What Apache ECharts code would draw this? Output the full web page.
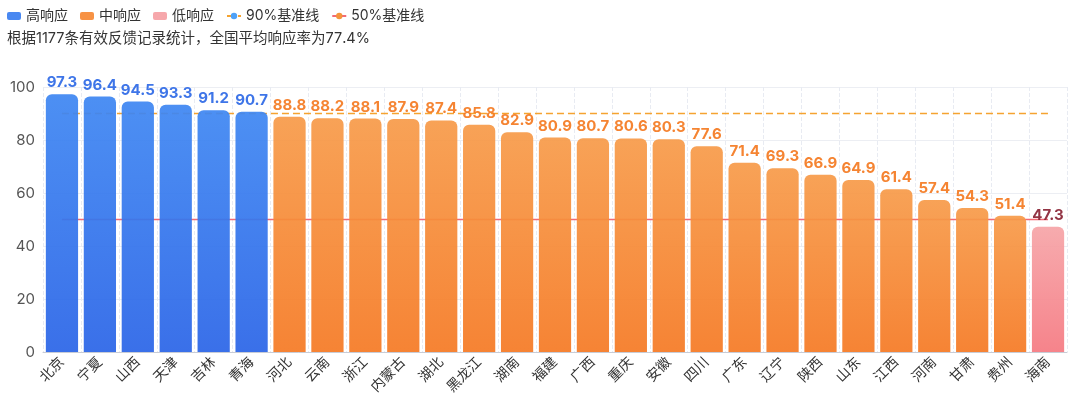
<!DOCTYPE html>
<html>
<head>
<meta charset="utf-8">
<script src="https://cdn.jsdelivr.net/npm/echarts@6/dist/echarts.min.js"></script>
<style>
html,body{margin:0;padding:0;background:#fff;}
#c{width:1080px;height:402px;}
</style>
</head>
<body>
<div id="c"></div>
<script>
const categories = ['北京','宁夏','山西','天津','吉林','青海','河北','云南','浙江','内蒙古','湖北','黑龙江','湖南','福建','广西','重庆','安徽','四川','广东','辽宁','陕西','山东','江西','河南','甘肃','贵州','海南'];
const rates = [97.3,96.4,94.5,93.3,91.2,90.7,88.8,88.2,88.1,87.9,87.4,85.8,82.9,80.9,80.7,80.6,80.3,77.6,71.4,69.3,66.9,64.9,61.4,57.4,54.3,51.4,47.3];
const groupOf = ['high','high','high','high','high','high','mid','mid','mid','mid','mid','mid','mid','mid','mid','mid','mid','mid','mid','mid','mid','mid','mid','mid','mid','mid','low'];
const baseline90 = 90;
const baseline50 = 50;
const yTicks = [0,20,40,60,80,100];
const subtitle = '根据1177条有效反馈记录统计，全国平均响应率为77.4%';

const FONT = 'Inter, "Noto Sans CJK SC", sans-serif';
function grad(top, bottom){
  return {type:'linear',x:0,y:0,x2:0,y2:1,colorStops:[{offset:0,color:top},{offset:1,color:bottom}]};
}
function pick(g){ return rates.map((v,i)=> groupOf[i]===g ? v : '-'); }

function barSeries(name, g, top, bottom, labelColor){
  return {
    name, type:'bar', stack:'r', data: pick(g), barCategoryGap:'15%', z:3,
    itemStyle:{color:grad(top,bottom), borderRadius:[6,6,0,0], opacity:0.93},
    label:{show:true, position:'top', distance:4, color:labelColor, fontWeight:'bold', fontSize:15, fontFamily:FONT,
      formatter:p=>p.value.toFixed(1)}
  };
}

const chart = echarts.init(document.getElementById('c'));
chart.setOption({
  animation:false,
  textStyle:{fontFamily:FONT},
  title:{text:subtitle, left:2, top:26, textStyle:{fontSize:14.5, fontWeight:'normal', color:'#333', fontFamily:FONT}},
  legend:{left:2, top:4, itemWidth:14, itemHeight:8, itemGap:12, textStyle:{fontSize:14, color:'#333', fontFamily:FONT},
    data:[
      {name:'高响应', icon:'roundRect', itemStyle:{color:'#3b7ff0'}},
      {name:'中响应', icon:'roundRect', itemStyle:{color:'#f68a36'}},
      {name:'低响应', icon:'roundRect', itemStyle:{color:'#f5a0a5'}},
      {name:'90%基准线'},
      {name:'50%基准线'}
    ]},
  grid:{left:43, right:13, top:87, bottom:50},
  xAxis:{type:'category', data:categories,
    axisLine:{lineStyle:{color:'#c8ccd6'}}, axisTick:{show:false},
    axisLabel:{rotate:45, interval:0, fontSize:14, color:'#333', margin:8, fontFamily:FONT},
    splitLine:{show:true, lineStyle:{color:'#e8ebf2', type:'dashed'}}},
  yAxis:{type:'value', min:yTicks[0], max:yTicks[yTicks.length-1], interval:20,
    axisLine:{show:false}, axisTick:{show:false},
    axisLabel:{fontSize:15, color:'#555', margin:8, fontFamily:FONT},
    splitLine:{lineStyle:{color:'#eceef3'}}},
  series:[
    barSeries('高响应','high','#3f87f2','#2b65e7','#2f6be6'),
    barSeries('中响应','mid','#f79b4a','#f57a25','#f47b22'),
    barSeries('低响应','low','#f6a5a8','#f57a82','#8a2536'),
    {name:'90%基准线', type:'line', z:1, data:categories.map(()=>baseline90), showSymbol:false, symbol:'circle',
      itemStyle:{color:'#4ea1f7'}, lineStyle:{color:'#f5a330', width:1.5, type:[7,4]}},
    {name:'50%基准线', type:'line', z:1, data:categories.map(()=>baseline50), showSymbol:false, symbol:'circle',
      itemStyle:{color:'#f5953c'}, lineStyle:{color:'#f26a74', width:1.5}}
  ]
});
</script>
</body>
</html>
